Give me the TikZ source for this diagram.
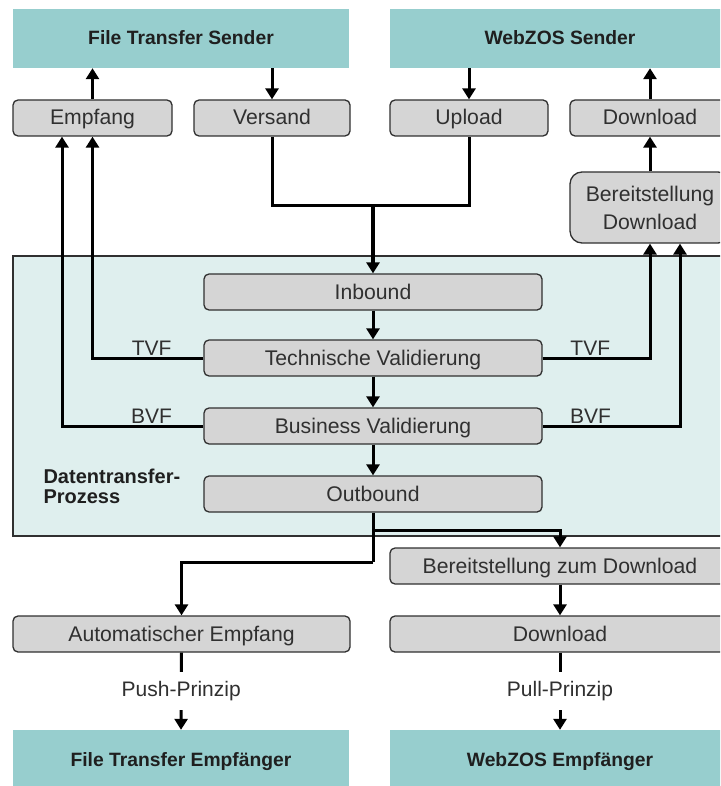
\documentclass[tikz,border=0pt]{standalone}
\usepackage{fontspec}
\setmainfont{Liberation Sans}
\usetikzlibrary{arrows.meta}
\definecolor{tealc}{HTML}{97CECE}
\definecolor{grayfill}{HTML}{D5D5D5}
\definecolor{lightbg}{HTML}{DFEFEE}
\definecolor{txt}{HTML}{303030}
\begin{document}
\begin{tikzpicture}[x=1pt,y=-1pt,
  gbox/.style={draw=txt, line width=1.3pt, fill=grayfill, rounded corners=5pt, text=txt,
    font=\fontsize{21.2}{23}\selectfont, inner sep=0pt, minimum height=36pt,
    text height=16.5pt, text depth=2.5pt},
  hbox/.style={fill=tealc, text=black!88, font=\bfseries\fontsize{19.3}{22}\selectfont,
    inner sep=0pt, minimum height=59pt, text height=15pt, text depth=3pt},
  lbl/.style={text=txt, font=\fontsize{21}{23}\selectfont},
  plain/.style={line width=3pt, draw=black},
  conn/.style={line width=3pt, draw=black, -{Triangle[width=13pt,length=11pt]}}]
\useasboundingbox (0,0) rectangle (720,786);
\clip (0,0) rectangle (720,786);
\fill[white] (0,0) rectangle (720,786);

% headers
\node[hbox, minimum width=336pt] (fts) at (181,38.5) {File Transfer Sender};
\node[hbox, minimum width=340pt] (wzs) at (560,38.5) {WebZOS Sender};
\node[hbox, minimum width=336pt, minimum height=60pt] (fte) at (181,760) {File Transfer Empfänger};
\node[hbox, minimum width=340pt, minimum height=60pt] (wze) at (560,760) {WebZOS Empfänger};

% top boxes
\node[gbox, minimum width=159pt] (emp) at (92.5,118) {Empfang};
\node[gbox, minimum width=156pt] (vers) at (272,118) {Versand};
\node[gbox, minimum width=158pt] (upl) at (469,118) {Upload};
\node[gbox, minimum width=160pt] (dlt) at (650,118) {Download};
\node[draw=txt, line width=1.3pt, fill=grayfill, text=txt, inner sep=0pt,
  minimum width=160pt, minimum height=71pt, rounded corners=12pt, align=center,
  font=\fontsize{21.2}{28}\selectfont] (bdl) at (650,207.5) {Bereitstellung\\Download};

% process area
\node[draw=txt, line width=1.3pt, fill=lightbg, minimum width=717pt, minimum height=280pt,
  inner sep=0pt] (dtp) at (371.5,396) {};
\node[anchor=north west, align=left, text=black!88,
  font=\bfseries\fontsize{20}{20}\selectfont] (dtpl) at (40,465) {Datentransfer-\\Prozess};

\node[gbox, minimum width=338pt] (inb) at (373,292) {Inbound};
\node[gbox, minimum width=338pt] (tech) at (373,358) {Technische Validierung};
\node[gbox, minimum width=338pt] (bus) at (373,426) {Business Validierung};
\node[gbox, minimum width=338pt] (out) at (373,494) {Outbound};

% lower boxes
\node[gbox, minimum width=340pt] (bzd) at (560,566) {Bereitstellung zum Download};
\node[gbox, minimum width=337pt] (auto) at (181.5,634) {Automatischer Empfang};
\node[gbox, minimum width=340pt] (dlb) at (560,634) {Download};

% connectors top
\draw[conn] (emp.north) -- (emp.north |- fts.south);
\draw[conn] (vers.north |- fts.south) -- (vers.north);
\draw[conn] (upl.north |- wzs.south) -- (upl.north);
\draw[conn] (dlt.north) -- (dlt.north |- wzs.south);
\draw[conn] (bdl.north) -- (dlt.south);

\coordinate (j) at (373,206);
\draw[plain] (vers.south) |- (j) -| (upl.south);
\draw[conn, line width=4.5pt] (j) -- (inb.north);

\draw[conn] (inb.south) -- (tech.north);
\draw[conn] (tech.south) -- (bus.north);
\draw[conn] (bus.south) -- (out.north);

% feedback
\draw[conn] (tech.west) -| node[pos=0.233, above, lbl, inner sep=1.5pt] {TVF} (emp.south);
\draw[conn] (bus.west) -| node[pos=0.183, above, lbl, inner sep=1.5pt] {BVF} ([xshift=-30.5pt]emp.south);
\draw[conn] (tech.east) -| node[pos=0.222, above, lbl, inner sep=1.5pt] {TVF} (bdl.south);
\draw[conn] (bus.east) -| node[pos=0.174, above, lbl, inner sep=1.5pt] {BVF} ([xshift=30pt]bdl.south);

% outbound
\coordinate (o1) at (373,530);
\coordinate (o2) at (373,562);
\draw[plain] (out.south) -- (o2);
\draw[conn] (o1) -| (bzd.north);
\draw[conn] (o2) -| (auto.north);
\draw[conn] (bzd.south) -- (dlb.north);

\draw[conn] (auto.south) -- node[lbl, fill=white, inner xsep=2pt, inner ysep=9pt] {Push-Prinzip} (fte.north);
\draw[conn] (dlb.south) -- node[lbl, fill=white, inner xsep=2pt, inner ysep=9pt] {Pull-Prinzip} (wze.north);
\end{tikzpicture}
\end{document}
